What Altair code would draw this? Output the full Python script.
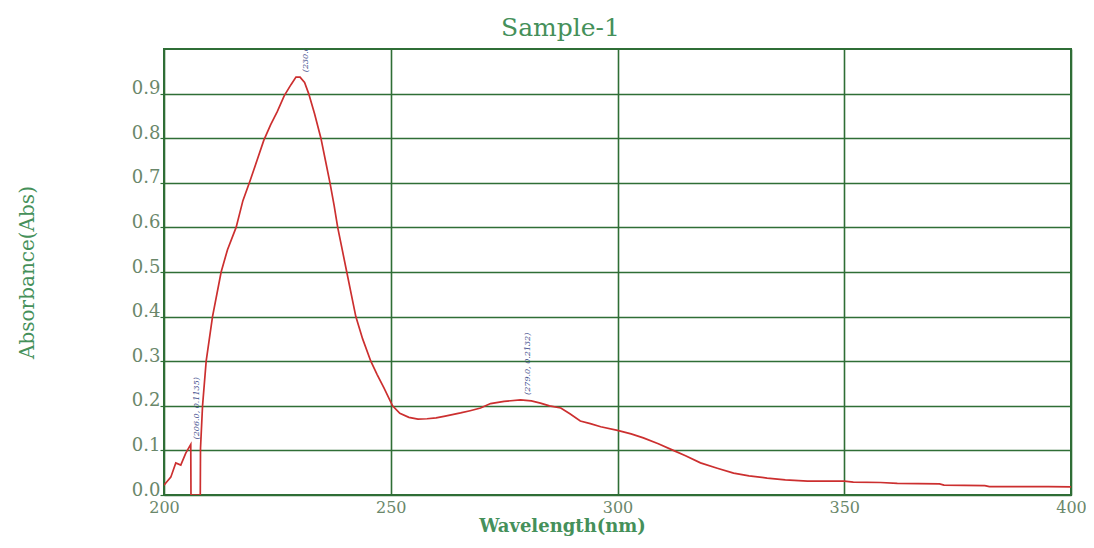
import altair as alt
import pandas as pd

wavelength = [
    200.0, 200.4, 201.5, 202.6, 203.7, 204.8, 205.9, 205.95, 208.0, 208.05, 208.5, 209.3,
    210.7, 212.6, 214.0, 215.9, 217.4, 219.0, 220.5, 222.0, 223.5, 225.0, 226.5, 228.0,
    229.1, 230.0, 231.0, 231.9, 233.2, 234.6, 235.6, 236.6, 237.5, 238.3, 239.3, 240.3,
    241.3, 242.3, 243.8, 245.6, 247.0, 248.5, 250.4, 252.0, 254.0, 256.0, 258.0, 260.0,
    262.0, 265.4, 267.5, 269.8, 272.0, 275.0, 278.6, 281.0, 283.0, 285.0, 287.5, 289.5,
    291.8, 294.0, 296.3, 300.0, 303.0, 305.7, 309.0, 312.3, 315.0, 318.3, 322.0, 325.6,
    329.0, 333.0, 337.0, 341.9, 346.0, 350.0, 352.0, 358.0, 361.7, 371.0, 372.0, 381.0,
    382.0, 395.0, 400.0,
]
absorbance = [
    0.022, 0.027, 0.040, 0.072, 0.067, 0.094, 0.1135, 0.0, 0.0, 0.105, 0.200, 0.300,
    0.400, 0.500, 0.550, 0.600, 0.660, 0.705, 0.750, 0.795, 0.830, 0.860, 0.895, 0.920,
    0.937, 0.9368, 0.925, 0.900, 0.855, 0.800, 0.750, 0.700, 0.650, 0.600, 0.550, 0.500,
    0.450, 0.400, 0.350, 0.300, 0.270, 0.240, 0.200, 0.183, 0.174, 0.170, 0.171, 0.173,
    0.177, 0.184, 0.189, 0.195, 0.205, 0.210, 0.2132, 0.211, 0.206, 0.200, 0.195, 0.182,
    0.166, 0.160, 0.153, 0.145, 0.137, 0.128, 0.115, 0.100, 0.088, 0.072, 0.060, 0.049,
    0.043, 0.038, 0.034, 0.031, 0.031, 0.031, 0.029, 0.028, 0.026, 0.025, 0.022, 0.021,
    0.019, 0.019, 0.018,
]
peak_nm = [206.0, 230.0, 279.0]
peak_abs = [0.1135, 0.9368, 0.2132]
peak_labels = ["(206.0, 0.1135)", "(230.0, 0.9368)", "(279.0, 0.2132)"]

x_ticks = [200, 250, 300, 350, 400]
y_ticks = [0.0, 0.1, 0.2, 0.3, 0.4, 0.5, 0.6, 0.7, 0.8, 0.9]

df = pd.DataFrame({"nm": wavelength, "abs": absorbance, "idx": list(range(len(wavelength)))})
peaks = pd.DataFrame({"nm": peak_nm, "abs": peak_abs, "label": peak_labels})

FONT = "DejaVu Serif"
GRID = "#2f6e36"
LABEL = "#6a876a"
TITLE = "#45905a"

x_enc = alt.X(
    "nm:Q",
    scale=alt.Scale(domain=[200, 400], nice=False, zero=False),
    axis=alt.Axis(
        values=x_ticks, title="Wavelength(nm)", grid=True, gridColor=GRID, gridWidth=1.6,
        gridOpacity=1, domain=False, ticks=False, labelFont=FONT, labelFontSize=16,
        labelColor=LABEL, labelPadding=4, titleFont=FONT, titleFontSize=18,
        titleFontWeight="bold", titleColor=TITLE, titleX=398, titleAlign="center",
        titlePadding=2, labelFlush=False,
    ),
)
y_enc = alt.Y(
    "abs:Q",
    scale=alt.Scale(domain=[0, 1.0], nice=False),
    axis=alt.Axis(
        values=y_ticks, format=".1f", title="Absorbance(Abs)", grid=True, gridColor=GRID,
        gridWidth=1.6, gridOpacity=1, domain=False, ticks=True, tickSize=4, tickColor=GRID,
        tickWidth=1.2, labelFont=FONT, labelFontSize=18, labelColor=LABEL,
        labelPadding=0, labelBaseline="alphabetic", titleFont=FONT, titleFontSize=20,
        titleFontWeight="normal", titleColor=TITLE, titleAngle=-90, titleX=-137,
        titleY=223, titleAlign="center", titleBaseline="middle",
    ),
)

line = alt.Chart(df).mark_line(color="#cc2f2f", strokeWidth=1.7, clip=True).encode(
    x=x_enc, y=y_enc, order=alt.Order("idx:Q")
)

labels = alt.Chart(peaks).mark_text(
    angle=270, align="left", baseline="middle", dx=5, dy=6, fontSize=8,
    fontStyle="italic", font=FONT, color="#3b4a8a", clip=True,
).encode(x=alt.X("nm:Q"), y=alt.Y("abs:Q"), text="label:N")

chart = (
    alt.layer(line, labels)
    .properties(
        width=907,
        height=446,
        autosize=alt.AutoSizeParams(type="none"),
        padding={"left": 156, "top": 41, "right": 15, "bottom": 42},
        background="white",
        title=alt.TitleParams(
            "Sample-1", font=FONT, fontSize=25, fontWeight="normal", color=TITLE,
            anchor="middle", dx=-57, offset=8,
        ),
    )
    .configure_view(stroke=GRID, strokeWidth=2)
)

chart.save("out.html", embed_options={"renderer": "svg", "actions": False})
